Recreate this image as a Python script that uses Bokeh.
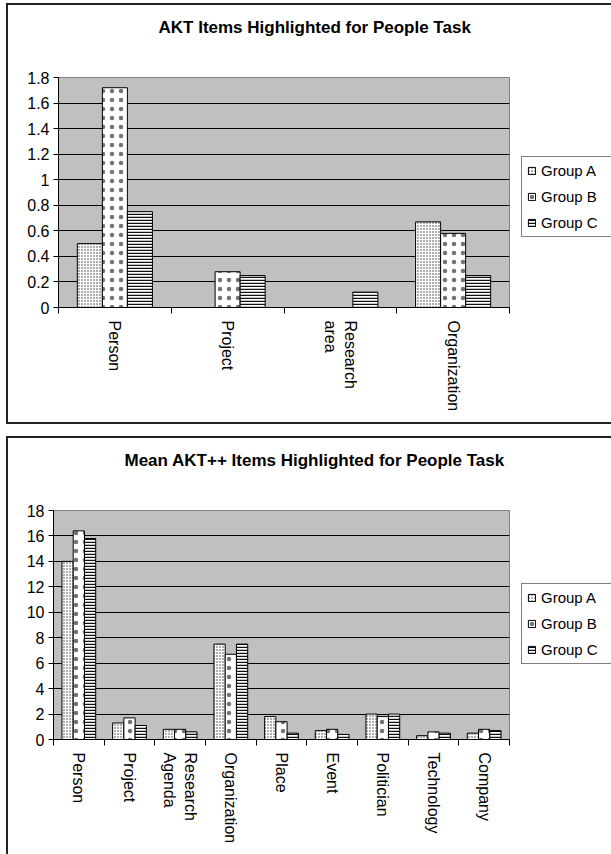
import math
from bokeh.plotting import figure
from bokeh.models import (ColumnDataSource, FixedTicker, Legend, LegendItem,
                          Range1d, Title)
from bokeh.layouts import column, row
from bokeh.embed import file_html
from bokeh.resources import INLINE

FONT = "Liberation Sans"

group_names = ["Group A", "Group B", "Group C"]

# Chart 1: AKT
akt_title = "AKT Items Highlighted for People Task"
akt_categories = ["Person", "Project", "Research\narea", "Organization"]
akt_group_a = [0.5, 0.0, 0.0, 0.67]
akt_group_b = [1.72, 0.28, 0.0, 0.58]
akt_group_c = [0.75, 0.25, 0.12, 0.25]
akt_y_ticks = [0, 0.2, 0.4, 0.6, 0.8, 1.0, 1.2, 1.4, 1.6, 1.8]
akt_y_labels = ["0", "0.2", "0.4", "0.6", "0.8", "1", "1.2", "1.4", "1.6", "1.8"]

# Chart 2: AKT++
aktpp_title = "Mean AKT++ Items Highlighted for People Task"
aktpp_categories = ["Person", "Project", "Research\nAgenda", "Organization", "Place",
                    "Event", "Politician", "Technology", "Company"]
aktpp_group_a = [14.0, 1.3, 0.8, 7.5, 1.8, 0.7, 2.0, 0.3, 0.5]
aktpp_group_b = [16.4, 1.7, 0.8, 6.7, 1.4, 0.8, 1.8, 0.6, 0.8]
aktpp_group_c = [15.8, 1.1, 0.6, 7.5, 0.5, 0.4, 2.0, 0.5, 0.7]
aktpp_y_ticks = [0, 2, 4, 6, 8, 10, 12, 14, 16, 18]
aktpp_y_labels = ["0", "2", "4", "6", "8", "10", "12", "14", "16", "18"]

BAR_W = 0.222
BORDER = "2px solid #222"


def group_styles():
    return [
        dict(hatch_pattern="dot", hatch_scale=3, hatch_weight=0.9, hatch_color="#333333"),
        dict(hatch_pattern="dot", hatch_scale=9, hatch_weight=1, hatch_color="#000000",
             hatch_alpha=0.55),
        dict(hatch_pattern="horizontal_line", hatch_scale=3, hatch_weight=1.5,
             hatch_color="#111111"),
    ]


def make_chart(title, cats, series, yticks, ylabels, main_w, legend_w, height, mb_left,
               mb_bottom, title_offset, legend_xy, bottom_border, margin_top):
    n = len(cats)
    p = figure(width=main_w, height=height, x_range=Range1d(0, n),
               y_range=Range1d(yticks[0], yticks[-1]),
               output_backend="svg", toolbar_location=None,
               min_border_left=mb_left, min_border_top=0,
               min_border_right=8, min_border_bottom=mb_bottom)
    p.background_fill_color = "#C0C0C0"
    p.border_fill_color = "white"
    p.outline_line_color = "#808080"
    p.outline_line_width = 1

    centers = [i + 0.5 for i in range(n)]
    sources = []
    for k, (vals, st) in enumerate(zip(series, group_styles())):
        src = ColumnDataSource(dict(x=[c + (k - 1) * BAR_W for c in centers], top=vals))
        sources.append(src)
        p.vbar(x="x", top="top", bottom=0, width=BAR_W, source=src,
               fill_color="white", line_color="black", line_width=1, **st)

    # x axis: labels at category centres, tick marks at category boundaries
    xa = p.xaxis[0]
    xa.ticker = FixedTicker(ticks=centers, minor_ticks=list(range(n + 1)))
    xa.major_label_overrides = {c: lab for c, lab in zip(centers, cats)}
    xa.major_label_orientation = -math.pi / 2
    xa.major_tick_in = 0
    xa.major_tick_out = 0
    xa.minor_tick_in = 0
    xa.minor_tick_out = 6
    xa.minor_tick_line_color = "black"
    xa.axis_line_color = "black"
    xa.major_label_text_font = FONT
    xa.major_label_text_font_size = "16px"
    xa.major_label_text_color = "black"
    xa.major_label_standoff = 7

    ya = p.yaxis[0]
    ya.ticker = FixedTicker(ticks=yticks)
    ya.major_label_overrides = {t: lab for t, lab in zip(yticks, ylabels)}
    ya.major_tick_in = 0
    ya.major_tick_out = 5
    ya.minor_tick_line_color = None
    ya.axis_line_color = "black"
    ya.major_tick_line_color = "black"
    ya.major_label_text_font = FONT
    ya.major_label_text_font_size = "16px"
    ya.major_label_text_color = "black"
    ya.major_label_standoff = 4

    p.xgrid.grid_line_color = None
    p.ygrid.ticker = FixedTicker(ticks=yticks[1:-1])
    p.ygrid.grid_line_color = "black"
    p.ygrid.grid_line_width = 1

    # spacer between title and frame (closest to the frame)
    p.add_layout(Title(text=" ", text_font_size="1px", standoff=26), "above")
    p.title.text = title
    p.title.align = "left"
    p.title.offset = title_offset
    p.title.vertical_align = "middle"
    p.title.standoff = 22
    p.title.text_font = FONT
    p.title.text_font_style = "bold"
    p.title.text_font_size = "17px"
    p.title.text_color = "black"

    main_styles = {"border-left": BORDER, "border-top": BORDER}
    if bottom_border:
        main_styles["border-bottom"] = BORDER
    p.styles = main_styles
    p.margin = (margin_top, 0, 0, 6)

    # legend panel to the right of the plot (its bars fall outside its x range)
    lf = figure(width=legend_w, height=height, x_range=Range1d(-3, -2),
                y_range=Range1d(yticks[0], yticks[-1]),
                output_backend="svg", toolbar_location=None,
                x_axis_location=None, y_axis_location=None,
                min_border_left=0, min_border_right=0, min_border_top=0, min_border_bottom=0)
    lf.outline_line_color = None
    lf.background_fill_color = "white"
    lf.border_fill_color = "white"
    lf.xgrid.visible = False
    lf.ygrid.visible = False
    legend_renderers = []
    for src, st in zip(sources, group_styles()):
        r = lf.vbar(x="x", top="top", bottom=0, width=BAR_W, source=src, fill_color="white",
                    line_color="black", line_width=1, **st)
        legend_renderers.append(r)
    legend = Legend(items=[LegendItem(label=g, renderers=[r])
                           for g, r in zip(group_names, legend_renderers)],
                    location=legend_xy)
    legend.label_text_font = FONT
    legend.label_text_font_size = "15px"
    legend.label_text_color = "black"
    legend.glyph_width = 9
    legend.glyph_height = 9
    legend.label_height = 17
    legend.label_width = 72
    legend.label_standoff = 5
    legend.spacing = 9
    legend.padding = 5
    legend.margin = 0
    legend.border_line_color = "black"
    legend.border_line_width = 1
    legend.background_fill_color = "white"
    legend.background_fill_alpha = 1
    lf.add_layout(legend)
    lf_styles = {"border-top": BORDER}
    if bottom_border:
        lf_styles["border-bottom"] = BORDER
    lf.styles = lf_styles
    lf.margin = (margin_top, 0, 0, 0)
    return row(p, lf)


chart1 = make_chart(akt_title, akt_categories, [akt_group_a, akt_group_b, akt_group_c],
                    akt_y_ticks, akt_y_labels, main_w=509, legend_w=96, height=421,
                    mb_left=50, mb_bottom=119, title_offset=100, legend_xy=(6, 70),
                    bottom_border=True, margin_top=3)

chart2 = make_chart(aktpp_title, aktpp_categories, [aktpp_group_a, aktpp_group_b, aktpp_group_c],
                    aktpp_y_ticks, aktpp_y_labels, main_w=509, legend_w=96, height=418,
                    mb_left=45, mb_bottom=117, title_offset=71, legend_xy=(6, 75),
                    bottom_border=False, margin_top=12)

layout = column(chart1, chart2)
open("out.html", "w").write(file_html(layout, INLINE))
